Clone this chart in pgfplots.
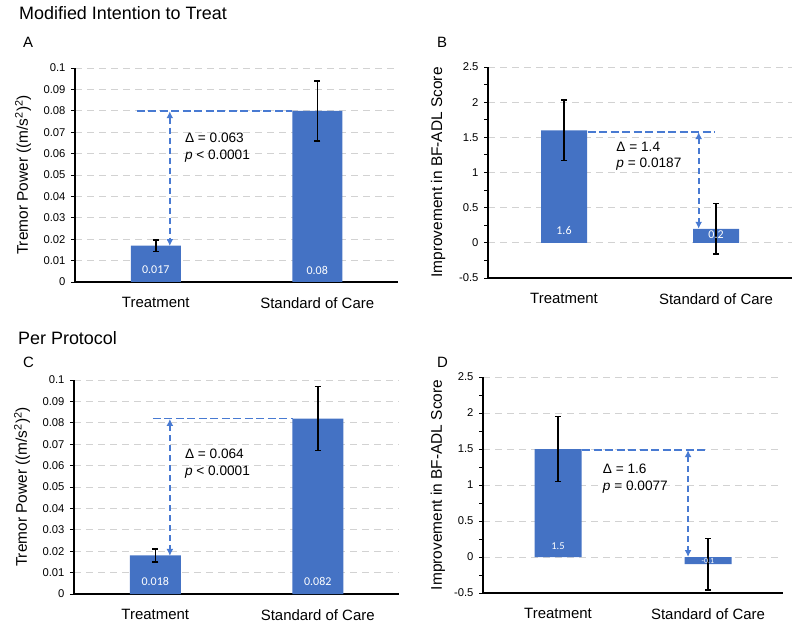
\documentclass[border=0pt]{standalone}
\usepackage{pgfplots}
\pgfplotsset{compat=1.18}
\usepackage{fontspec}
\setmainfont{Liberation Sans}
\newfontfamily\calibri{Carlito}
\usetikzlibrary{arrows.meta}
\definecolor{barblue}{RGB}{68,114,196}
\definecolor{arrblue}{RGB}{72,122,210}
\definecolor{gridgray}{RGB}{210,210,210}
\pgfplotsset{
 myaxis/.style={
  scale only axis,
  anchor=south west,
  axis x line*=bottom, axis y line*=left,
  axis line style={line width=1.2bp, black},
  xmin=-0.5, xmax=1.5,
  xtick={0,1}, xticklabels={Treatment, Standard of Care},
  xtick style={draw=none},
  tick label style={font=\fontsize{11.3}{13}\selectfont},
  yticklabel style={xshift=-2bp},
  xticklabel style={font=\fontsize{15}{17}\selectfont, yshift=-8bp},
  ymajorgrids, grid style={gridgray, dash pattern=on 7bp off 5bp, line width=0.9bp},
  ytick style={black, line width=0.9bp},
  tick align=outside, major tick length=4bp, minor tick length=4bp,
  ylabel style={font=\fontsize{15.5}{17}\selectfont, anchor=center},
  ybar,
  clip=false,
 },
 mybar/.style={fill=barblue, draw=none,
   error bars/.cd, y dir=both, y explicit,
   error bar style={black, line width=1.5bp},
   error mark options={rotate=90, black, mark size=3bp, line width=1.5bp}},
 tremor/.style={
   ymin=0, ymax=0.1,
   ytick={0,0.01,0.02,0.03,0.04,0.05,0.06,0.07,0.08,0.09,0.1},
   yticklabels={0,0.01,0.02,0.03,0.04,0.05,0.06,0.07,0.08,0.09,0.1},
   ylabel={Tremor Power ((m/s\textsuperscript{2})\textsuperscript{2})},
 },
 adl/.style={
   ymin=-0.5, ymax=2.5,
   ytick={-0.5,0,0.5,1,1.5,2,2.5},
   yticklabels={-0.5,0,0.5,1,1.5,2,2.5},
   minor ytick={-0.25,0.25,0.75,1.25,1.75,2.25},
   ylabel={Improvement in BF-ADL Score},
 },
}
\tikzset{
 dline/.style={arrblue, line width=1.8bp, dash pattern=on 8bp off 3.5bp},
 darrow/.style={arrblue, line width=1.8bp, dash pattern=on 6bp off 4bp,
   {Latex[length=7bp,width=7bp]}-{Latex[length=7bp,width=7bp]}},
 ann/.style={anchor=base west, inner sep=0pt, font=\fontsize{13.7}{16}\selectfont},
 barlab/.style={text=white, font=\calibri\fontsize{12}{14}\selectfont},
}
\begin{document}
\begin{tikzpicture}
\path[use as bounding box] (0bp,0bp) rectangle (800bp,635bp);
% titles
\node[anchor=base west, inner sep=0pt, font=\fontsize{18}{20}\selectfont] at (19bp,615bp) {Modified Intention to Treat};
\node[anchor=base west, inner sep=0pt, font=\fontsize{15}{17}\selectfont] at (23bp,587bp) {A};
\node[anchor=base west, inner sep=0pt, font=\fontsize{15}{17}\selectfont] at (437bp,587bp) {B};
\node[anchor=base west, inner sep=0pt, font=\fontsize{18}{20}\selectfont] at (18bp,290bp) {Per Protocol};
\node[anchor=base west, inner sep=0pt, font=\fontsize{15}{17}\selectfont] at (23bp,267bp) {C};
\node[anchor=base west, inner sep=0pt, font=\fontsize{15}{17}\selectfont] at (437bp,267bp) {D};

% Panel A
\begin{axis}[myaxis, tremor, at={(75bp,353bp)}, width=323bp, height=214bp, bar width=50bp,
  ylabel style={at={(axis description cs:-0.161,0.5)}}]
\addplot[mybar] coordinates {(0,0.017) +- (0,0.0027) (1,0.08) +- (0,0.014)};
\draw[dline] (axis cs:-0.118,0.08) -- (axis cs:0.845,0.08);
\draw[darrow] (axis cs:0.087,0.0798) -- (axis cs:0.087,0.0168);
\node[ann] at (axis cs:0.18,0.0651) {Δ = 0.063};
\node[ann] at (axis cs:0.18,0.0573) {\textit{p} < 0.0001};
\node[barlab] at (axis cs:0,0.0056) {0.017};
\node[barlab] at (axis cs:1,0.0056) {0.08};
\end{axis}

% Panel B
\begin{axis}[myaxis, adl, at={(488bp,357bp)}, width=304bp, height=211bp, bar width=46bp,
  ylabel style={at={(axis description cs:-0.164,0.5)}}]
\addplot[mybar] coordinates {(0,1.6) +- (0,0.43) (1,0.2) +- (0,0.36)};
\draw[dline] (axis cs:0.155,1.58) -- (axis cs:0.99,1.58);
\draw[darrow] (axis cs:0.886,1.575) -- (axis cs:0.886,0.2);
\node[ann] at (axis cs:0.344,1.305) {Δ = 1.4};
\node[ann] at (axis cs:0.344,1.07) {\textit{p} = 0.0187};
\node[barlab] at (axis cs:0,0.174) {1.6};
\node[barlab] at (axis cs:1,0.12) {0.2};
\end{axis}

% Panel C
\begin{axis}[myaxis, tremor, at={(74bp,41bp)}, width=325bp, height=214bp, bar width=51bp,
  ylabel style={at={(axis description cs:-0.16,0.5)}}]
\addplot[mybar] coordinates {(0,0.018) +- (0,0.003) (1,0.082) +- (0,0.015)};
\draw[dline] (axis cs:-0.015,0.082) -- (axis cs:0.845,0.082);
\draw[darrow] (axis cs:0.09,0.0818) -- (axis cs:0.09,0.0178);
\node[ann] at (axis cs:0.182,0.0634) {Δ = 0.064};
\node[ann] at (axis cs:0.182,0.0555) {\textit{p} < 0.0001};
\node[barlab] at (axis cs:0,0.0058) {0.018};
\node[barlab] at (axis cs:1,0.0058) {0.082};
\end{axis}

% Panel D
\begin{axis}[myaxis, adl, at={(483bp,42bp)}, width=300bp, height=216bp, bar width=47bp,
  ylabel style={at={(axis description cs:-0.15,0.5)}}]
\addplot[mybar] coordinates {(0,1.5) +- (0,0.45) (1,-0.1) +- (0,0.355)};
\draw[dline] (axis cs:0.16,1.49) -- (axis cs:1.0,1.49);
\draw[darrow] (axis cs:0.867,1.485) -- (axis cs:0.867,0.0);
\node[ann] at (axis cs:0.298,1.16) {Δ = 1.6};
\node[ann] at (axis cs:0.298,0.92) {\textit{p} = 0.0077};
\node[barlab, font=\calibri\fontsize{10.5}{12}\selectfont] at (axis cs:0,0.153) {1.5};
\node[barlab, font=\calibri\fontsize{8}{9}\selectfont] at (axis cs:1,-0.053) {-0.1};
\end{axis}
\end{tikzpicture}
\end{document}
